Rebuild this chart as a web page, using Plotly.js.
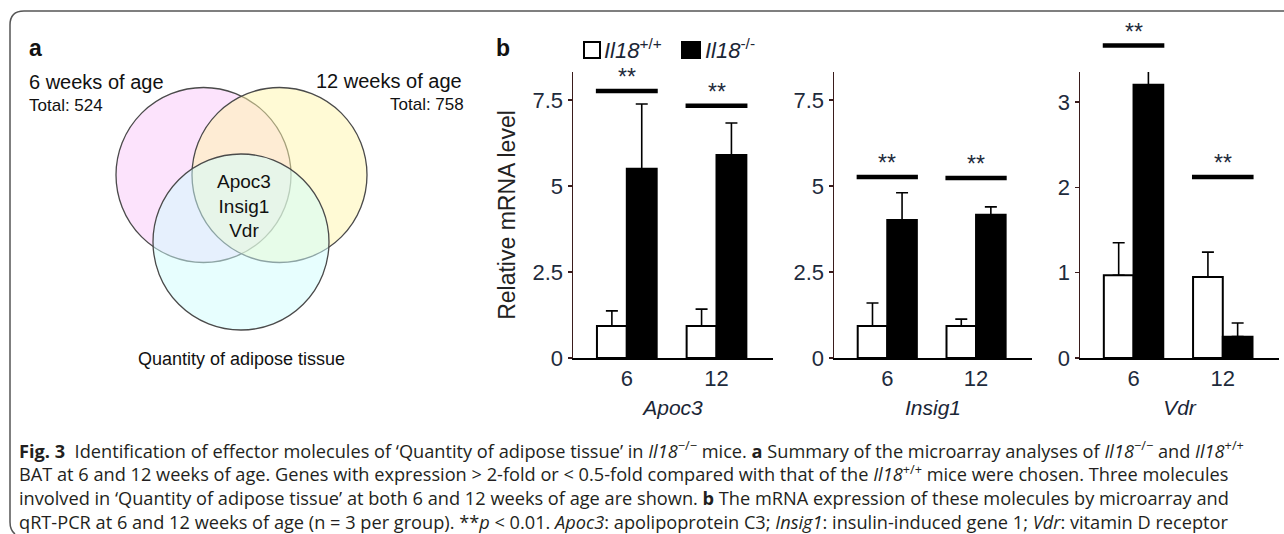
<!DOCTYPE html>
<html>
<head>
<meta charset="utf-8">
<script src="https://cdn.plot.ly/plotly-3.0.1.min.js"></script>
<style>html,body{margin:0;padding:0;background:#fff;}#chart{width:1284px;height:534px;}</style>
</head>
<body>
<div id="chart"></div>
<script>
// ---------- DATA ----------
const categories = ['6', '12'];
const genes = ['Apoc3', 'Insig1', 'Vdr'];
const groupNames = ['<i>Il18</i><sup>+/+</sup>', '<i>Il18</i><sup>-/-</sup>'];

const apoc3WT = [0.93, 0.93];
const apoc3WTErr = [0.44, 0.49];
const apoc3KO = [5.50, 5.90];
const apoc3KOErr = [1.88, 0.93];
const apoc3Sig = [7.76, 7.33];

const insig1WT = [0.93, 0.93];
const insig1WTErr = [0.67, 0.20];
const insig1KO = [4.01, 4.16];
const insig1KOErr = [0.79, 0.23];
const insig1Sig = [5.26, 5.23];

const vdrWT = [0.97, 0.95];
const vdrWTErr = [0.38, 0.29];
const vdrKO = [3.20, 0.25];
const vdrKOErr = [0.33, 0.16];
const vdrSig = [3.66, 2.12];

const sigLabels = ['**', '**'];
const yTickVals = [[0, 2.5, 5, 7.5], [0, 2.5, 5, 7.5], [0, 1, 2, 3]];
const yTickText = [['0', '2.5', '5', '7.5'], ['0', '2.5', '5', '7.5'], ['0', '1', '2', '3']];

const vennSets = ['6 weeks of age', '12 weeks of age', 'Quantity of adipose tissue'];
const vennTotals = [524, 758];
const vennShared = ['Apoc3', 'Insig1', 'Vdr'];

// ---------- HELPERS ----------
const W = 1284, H = 534;
const px = x => x / W;
const py = y => 1 - y / H;
const tickColor = '#1e2b3c';
const yDom = [py(358), py(72)];
const panels = [
  {wt: apoc3WT, wtErr: apoc3WTErr, ko: apoc3KO, koErr: apoc3KOErr, sig: apoc3Sig, yMax: 8.31, dom: [573, 773]},
  {wt: insig1WT, wtErr: insig1WTErr, ko: insig1KO, koErr: insig1KOErr, sig: insig1Sig, yMax: 8.31, dom: [834, 1032]},
  {wt: vdrWT, wtErr: vdrWTErr, ko: vdrKO, koErr: vdrKOErr, sig: vdrSig, yMax: 3.35, dom: [1080, 1279]}
];
const xIdx = categories.map((c, i) => i);
// value on a panel's linear y axis -> paper fraction (so marks above the range stay visible)
const valToPaper = (p, v) => yDom[0] + (v / p.yMax) * (yDom[1] - yDom[0]);

const traces = [];
const shapes = [];
const annotations = [];
const baseFont = 'Liberation Sans, Arial, sans-serif';
const layout = {
  width: W, height: H,
  margin: {l: 0, r: 0, t: 0, b: 0},
  paper_bgcolor: '#fff', plot_bgcolor: 'rgba(0,0,0,0)',
  font: {family: baseFont, color: '#222'},
  barmode: 'group', bargap: 0.334, bargroupgap: 0,
  showlegend: false
};

panels.forEach((p, k) => {
  const n = k === 0 ? '' : String(k + 1);
  const xa = 'x' + n, ya = 'y' + n;
  traces.push({
    type: 'bar', x: xIdx, y: p.wt, name: groupNames[0], xaxis: xa, yaxis: ya,
    marker: {color: '#ffffff', line: {color: '#000', width: 2}},
    error_y: {type: 'data', symmetric: false, array: p.wtErr, arrayminus: p.wt.map(() => 0), color: '#000', thickness: 1.6, width: 6},
    hoverinfo: 'skip'
  });
  traces.push({
    type: 'bar', x: xIdx, y: p.ko, name: groupNames[1], xaxis: xa, yaxis: ya,
    marker: {color: '#000000', line: {color: '#000', width: 2}},
    error_y: {type: 'data', symmetric: false, array: p.koErr, arrayminus: p.ko.map(() => 0), color: '#000', thickness: 1.6, width: 6},
    hoverinfo: 'skip'
  });
  layout['xaxis' + n] = {
    domain: [px(p.dom[0]), px(p.dom[1])], anchor: ya,
    range: [-0.6, 1.63], tickvals: xIdx, ticktext: categories,
    showline: true, linecolor: '#000', linewidth: 2, ticks: '', showgrid: false, zeroline: false,
    tickfont: {size: 22, color: tickColor}, fixedrange: true,
    title: {text: '<i>' + genes[k] + '</i>', font: {size: 21, color: '#1b2636'}, standoff: 10}
  };
  layout['yaxis' + n] = {
    domain: yDom, anchor: xa,
    range: [0, p.yMax], tickvals: yTickVals[k], ticktext: yTickText[k],
    showline: true, linecolor: '#3a1c1c', linewidth: 1.5, ticks: 'outside', ticklen: 4, tickwidth: 1.5, tickcolor: '#3a1c1c',
    showgrid: false, zeroline: false, tickfont: {size: 22, color: tickColor}, fixedrange: true,
    title: k === 0 ? {text: 'Relative mRNA level', font: {size: 23, color: '#222'}, standoff: 10} : undefined
  };
  // significance bars
  p.sig.forEach((s, i) => {
    const yp = valToPaper(p, s);
    shapes.push({type: 'line', xref: xa, yref: 'paper', x0: i - 0.345, x1: i + 0.345, y0: yp, y1: yp,
      line: {color: '#000', width: 4.5}});
    annotations.push({xref: xa, yref: 'paper', x: i, y: yp, text: sigLabels[i], showarrow: false,
      yanchor: 'bottom', yshift: -1, font: {size: 23, color: tickColor}});
  });
});

// ---------- LEGEND (drawn as swatches + labels) ----------
const legendItems = [
  {x0: 584, x1: 600, fill: '#fff', tx: 602},
  {x0: 682, x1: 700, fill: '#000', tx: 703}
];
legendItems.forEach((it, i) => {
  shapes.push({type: 'rect', xref: 'paper', yref: 'paper', x0: px(it.x0), x1: px(it.x1), y0: py(58), y1: py(42),
    fillcolor: it.fill, line: {color: '#000', width: 2}});
  annotations.push({xref: 'paper', yref: 'paper', x: px(it.tx), y: py(49), xanchor: 'left', yanchor: 'middle',
    text: groupNames[i], showarrow: false, font: {size: 22, color: '#1b2636'}});
});

// ---------- VENN (hidden pixel-scale axes) ----------
layout.xaxis4 = {domain: [0, px(480)], range: [0, 480], visible: false, fixedrange: true};
layout.yaxis4 = {domain: [0, 1], range: [H, 0], visible: false, fixedrange: true};
traces.push({type: 'scatter', x: [0], y: [0], xaxis: 'x4', yaxis: 'y4', mode: 'markers',
  marker: {opacity: 0}, hoverinfo: 'skip'});
const vennCircles = [
  {cx: 203.5, cy: 175, r: 87.5, fill: 'rgba(249,199,249,0.5)'},
  {cx: 279.5, cy: 175, r: 87.5, fill: 'rgba(255,245,172,0.5)'},
  {cx: 241, cy: 242, r: 88, fill: 'rgba(208,253,253,0.5)'}
];
vennCircles.forEach(c => shapes.push({type: 'circle', xref: 'x4', yref: 'y4', layer: 'below',
  x0: c.cx - c.r, x1: c.cx + c.r, y0: c.cy - c.r, y1: c.cy + c.r,
  fillcolor: c.fill, line: {color: '#4a4a4a', width: 1.3}}));
const vA = (x, y, text, size, xanchor) => annotations.push({
  xref: 'x4', yref: 'y4', x: x, y: y, text: text, showarrow: false, xanchor: xanchor, yanchor: 'middle',
  font: {size: size, color: '#111', family: baseFont}});
vA(27, 82, vennSets[0], 20, 'left');
vA(27, 105, 'Total: ' + vennTotals[0], 17, 'left');
vA(464, 81, vennSets[1], 20, 'right');
vA(466, 104, 'Total: ' + vennTotals[1], 17, 'right');
vA(244, 206, vennShared.join('<br>'), 19, 'center');
vA(241, 359, vennSets[2], 18, 'center');

// panel letters
annotations.push({xref: 'paper', yref: 'paper', x: px(27), y: py(48), xanchor: 'left', yanchor: 'middle',
  text: '<b>a</b>', showarrow: false, font: {size: 23, color: '#111'}});
annotations.push({xref: 'paper', yref: 'paper', x: px(494), y: py(48), xanchor: 'left', yanchor: 'middle',
  text: '<b>b</b>', showarrow: false, font: {size: 23, color: '#111'}});

// ---------- CAPTION ----------
const captionLines = [
  '<b>Fig. 3</b>\u00a0 Identification of effector molecules of ‘Quantity of adipose tissue’ in <i>Il18</i><sup>−/−</sup> mice. <b>a</b> Summary of the microarray analyses of <i>Il18</i><sup>−/−</sup> and <i>Il18</i><sup>+/+</sup>',
  'BAT at 6 and 12 weeks of age. Genes with expression &gt;\u00a02-fold or &lt;\u00a00.5-fold compared with that of the <i>Il18</i><sup>+/+</sup> mice were chosen. Three molecules',
  'involved in ‘Quantity of adipose tissue’ at both 6 and 12 weeks of age are shown. <b>b</b> The mRNA expression of these molecules by microarray and',
  'qRT-PCR at 6 and 12 weeks of age (n\u00a0=\u00a03 per group). **<i>p</i>\u00a0&lt;\u00a00.01. <i>Apoc3</i>: apolipoprotein C3; <i>Insig1</i>: insulin-induced gene 1; <i>Vdr</i>: vitamin D receptor'
];
annotations.push({xref: 'paper', yref: 'paper', x: px(17), y: py(485.5),
  xanchor: 'left', yanchor: 'middle', align: 'left', text: captionLines.join('<br>'), showarrow: false,
  font: {size: 18.2, color: '#231f20', family: 'Open Sans, sans-serif'}});

// frame
shapes.push({type: 'path', xref: 'paper', yref: 'paper',
  path: `M ${px(1284)},${py(11)} L ${px(24)},${py(11)} Q ${px(10)},${py(11)} ${px(10)},${py(25)} L ${px(10)},${py(522)} Q ${px(10)},${py(530)} ${px(15)},${py(534)}`,
  line: {color: '#555', width: 1.5}});

layout.shapes = shapes;
layout.annotations = annotations;

Plotly.newPlot('chart', traces, layout, {staticPlot: true, displayModeBar: false});
</script>
</body>
</html>
